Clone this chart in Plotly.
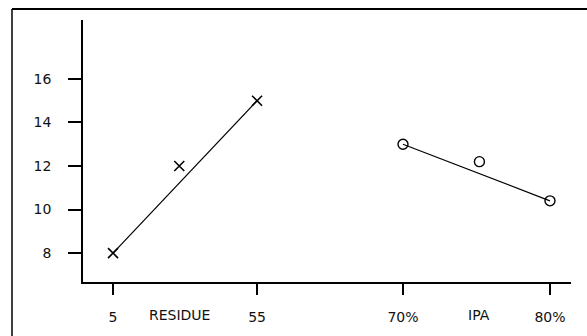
import plotly.graph_objects as go

# Data
residue_x = [5, 28, 55]
residue_y = [8, 12, 15]
ipa_x = [70, 75.2, 80]
ipa_y = [13, 12.2, 10.4]
y_ticks = [8, 10, 12, 14, 16]
x_ticks_left = [5, 55]
x_labels_left = ["5", "55"]
x_ticks_right = [70, 80]
x_labels_right = ["70%", "80%"]
group_labels = ["RESIDUE", "IPA"]

FONT = dict(family="DejaVu Sans", size=14, color="#111")

fig = go.Figure()
fig.add_trace(go.Scatter(x=[residue_x[0], residue_x[-1]], y=[residue_y[0], residue_y[-1]],
                         mode="lines", line=dict(color="black", width=1.2),
                         xaxis="x", yaxis="y", showlegend=False))
fig.add_trace(go.Scatter(x=residue_x, y=residue_y, mode="markers",
                         marker=dict(symbol="x-thin", size=10, line=dict(color="black", width=1.6)),
                         xaxis="x", yaxis="y", showlegend=False))
fig.add_trace(go.Scatter(x=[ipa_x[0], ipa_x[-1]], y=[ipa_y[0], ipa_y[-1]],
                         mode="lines", line=dict(color="black", width=1.2),
                         xaxis="x2", yaxis="y", showlegend=False))
fig.add_trace(go.Scatter(x=ipa_x, y=ipa_y, mode="markers",
                         marker=dict(symbol="circle-open", size=10, color="black",
                                     line=dict(color="black", width=1.4)),
                         xaxis="x2", yaxis="y", showlegend=False))

split = 0.506
fig.update_layout(
    width=587, height=336,
    margin=dict(l=83, r=16, t=20, b=54),
    paper_bgcolor="white", plot_bgcolor="white",
    font=FONT,
    xaxis=dict(domain=[0, split], range=[-5.42, 80.3], showline=True, linecolor="black",
               linewidth=1.5, ticks="outside", ticklen=11, tickwidth=1.5, tickcolor="black",
               tickvals=x_ticks_left, ticktext=x_labels_left, showgrid=False, zeroline=False,
               ticklabelstandoff=10, tickfont=FONT),
    xaxis2=dict(domain=[split, 1], range=[65.03, 81.43], showline=True, linecolor="black",
                linewidth=1.5, ticks="outside", ticklen=11, tickwidth=1.5, tickcolor="black",
                tickvals=x_ticks_right, ticktext=x_labels_right, showgrid=False, zeroline=False,
                anchor="y", ticklabelstandoff=10, tickfont=FONT),
    yaxis=dict(range=[6.67, 18.71], showline=True, linecolor="black", linewidth=1.5,
               ticks="outside", ticklen=13, tickwidth=1.5, tickcolor="black",
               tickvals=y_ticks, showgrid=False, zeroline=False,
               ticklabelstandoff=14, tickfont=FONT),
)

fig.add_annotation(x=residue_x[1], xref="x", y=-0.127, yref="paper", text=group_labels[0],
                   showarrow=False, font=FONT, yanchor="middle")
fig.add_annotation(x=ipa_x[1], xref="x2", y=-0.127, yref="paper", text=group_labels[1],
                   showarrow=False, font=FONT, yanchor="middle")

fig.add_shape(type="line", xref="paper", yref="paper", x0=-0.1455, x1=1.1, y0=1.042, y1=1.042,
              line=dict(color="black", width=2))
fig.add_shape(type="line", xref="paper", yref="paper", x0=-0.1455, x1=-0.1455, y0=1.042, y1=-0.3,
              line=dict(color="black", width=1.5))

fig.write_html("out.html")
